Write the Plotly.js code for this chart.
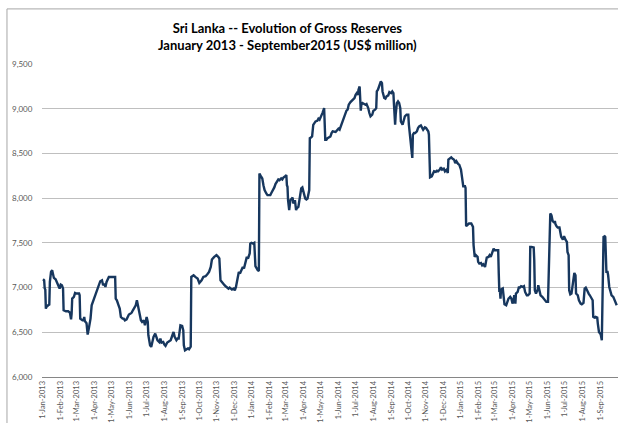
<!DOCTYPE html>
<html><head><meta charset="utf-8">
<script src="https://cdn.plot.ly/plotly-3.0.1.min.js"></script>
<style>html,body{margin:0;padding:0;background:#fff}#chart{width:618px;height:423px}</style>
</head><body><div id="chart"></div><script>
const dates2013 = ['2013-01-01','2013-01-03','2013-01-04','2013-01-05','2013-01-06','2013-01-07','2013-01-10','2013-01-12','2013-01-13','2013-01-15','2013-01-17','2013-01-18','2013-01-20','2013-01-23','2013-01-25','2013-01-27','2013-01-30','2013-02-01','2013-02-03','2013-02-05','2013-02-06','2013-02-10','2013-02-14','2013-02-17','2013-02-19','2013-02-20','2013-02-21','2013-02-24','2013-02-26','2013-02-28','2013-03-05','2013-03-06','2013-03-07','2013-03-11','2013-03-13','2013-03-14','2013-03-15','2013-03-18','2013-03-19','2013-03-20','2013-03-22','2013-03-25','2013-03-27','2013-03-29','2013-04-01','2013-04-04','2013-04-07','2013-04-09','2013-04-11','2013-04-14','2013-04-16','2013-04-18','2013-04-20','2013-04-22','2013-04-24','2013-04-26','2013-04-29','2013-05-04','2013-05-07','2013-05-08','2013-05-10','2013-05-13','2013-05-15','2013-05-17','2013-05-20','2013-05-22','2013-05-24','2013-05-27','2013-05-29','2013-05-31','2013-06-03','2013-06-05','2013-06-07','2013-06-09','2013-06-12','2013-06-14','2013-06-16','2013-06-19','2013-06-21','2013-06-23','2013-06-26','2013-06-28','2013-07-01','2013-07-03','2013-07-04','2013-07-07','2013-07-09','2013-07-11','2013-07-13','2013-07-16','2013-07-18','2013-07-20','2013-07-23','2013-07-25','2013-07-27','2013-07-30','2013-08-01','2013-08-03','2013-08-06','2013-08-08','2013-08-10','2013-08-12','2013-08-15','2013-08-17','2013-08-19','2013-08-22','2013-08-24','2013-08-26','2013-08-29','2013-09-01','2013-09-03','2013-09-04','2013-09-06','2013-09-09','2013-09-11','2013-09-13','2013-09-16','2013-09-17','2013-09-21','2013-09-24','2013-09-28','2013-10-01','2013-10-05','2013-10-08','2013-10-12','2013-10-15','2013-10-18','2013-10-21','2013-10-23','2013-10-27','2013-10-31','2013-11-03','2013-11-05','2013-11-07','2013-11-09','2013-11-11','2013-11-14','2013-11-16','2013-11-18','2013-11-21','2013-11-23','2013-11-25','2013-11-27','2013-11-30','2013-12-02','2013-12-04','2013-12-07','2013-12-09','2013-12-11','2013-12-14','2013-12-16','2013-12-18','2013-12-21','2013-12-23','2013-12-25','2013-12-28','2013-12-29','2013-12-31'];
const reserves2013 = [7093,7082,6990,6978,6765,6784,6802,6810,7063,7175,7194,7157,7108,7093,7063,7026,6989,7034,7026,6989,6746,6735,6735,6720,6645,6709,6877,6896,6940,6933,6933,6914,6653,6634,6634,6672,6627,6601,6537,6474,6541,6653,6802,6840,6877,6951,7007,7045,7071,7082,7026,7045,7007,7063,7101,7119,7119,7116,7119,6877,6858,6802,6765,6672,6653,6653,6634,6645,6672,6698,6709,6720,6746,6765,6802,6858,6802,6709,6634,6616,6634,6578,6672,6616,6467,6355,6336,6392,6448,6485,6448,6411,6392,6430,6385,6392,6362,6347,6385,6392,6400,6411,6467,6504,6448,6411,6430,6430,6578,6571,6522,6355,6299,6310,6320,6310,6340,7119,7138,7119,7101,7052,7082,7119,7127,7149,7175,7231,7313,7343,7362,7343,7325,7082,7063,7045,7026,7015,7007,6989,7000,6989,6978,6989,6970,7007,7119,7175,7157,7194,7231,7213,7287,7343,7325,7381,7492,7500];

const dates2014 = ['2014-01-03','2014-01-05','2014-01-07','2014-01-09','2014-01-11','2014-01-13','2014-01-14','2014-01-17','2014-01-19','2014-01-21','2014-01-23','2014-01-26','2014-01-28','2014-01-30','2014-02-02','2014-02-04','2014-02-07','2014-02-09','2014-02-11','2014-02-14','2014-02-16','2014-02-18','2014-02-21','2014-02-23','2014-02-25','2014-02-28','2014-03-02','2014-03-03','2014-03-04','2014-03-05','2014-03-06','2014-03-07','2014-03-09','2014-03-11','2014-03-13','2014-03-14','2014-03-17','2014-03-19','2014-03-20','2014-03-23','2014-03-25','2014-03-28','2014-03-30','2014-04-01','2014-04-04','2014-04-06','2014-04-08','2014-04-11','2014-04-12','2014-04-14','2014-04-16','2014-04-18','2014-04-20','2014-04-22','2014-04-25','2014-04-27','2014-04-29','2014-05-02','2014-05-04','2014-05-06','2014-05-07','2014-05-09','2014-05-11','2014-05-13','2014-05-16','2014-05-18','2014-05-20','2014-05-22','2014-05-27','2014-05-29','2014-06-01','2014-06-03','2014-06-05','2014-06-08','2014-06-10','2014-06-12','2014-06-15','2014-06-17','2014-06-19','2014-06-22','2014-06-24','2014-06-26','2014-06-29','2014-07-01','2014-07-03','2014-07-05','2014-07-06','2014-07-08','2014-07-09','2014-07-10','2014-07-11','2014-07-13','2014-07-16','2014-07-18','2014-07-20','2014-07-23','2014-07-25','2014-07-27','2014-07-30','2014-08-01','2014-08-04','2014-08-06','2014-08-07','2014-08-09','2014-08-12','2014-08-14','2014-08-16','2014-08-17','2014-08-20','2014-08-22','2014-08-24','2014-08-27','2014-08-29','2014-09-01','2014-09-03','2014-09-05','2014-09-06','2014-09-07','2014-09-08','2014-09-09','2014-09-11','2014-09-13','2014-09-15','2014-09-17','2014-09-18','2014-09-21','2014-09-23','2014-09-25','2014-09-28','2014-10-01','2014-10-02','2014-10-04','2014-10-05','2014-10-06','2014-10-08','2014-10-09','2014-10-11','2014-10-13','2014-10-16','2014-10-18','2014-10-20','2014-10-23','2014-10-25','2014-10-27','2014-10-30','2014-11-01','2014-11-03','2014-11-05','2014-11-06','2014-11-07','2014-11-08','2014-11-11','2014-11-13','2014-11-15','2014-11-18','2014-11-20','2014-11-22','2014-11-25','2014-11-27','2014-11-29','2014-12-02','2014-12-04','2014-12-07','2014-12-09','2014-12-10','2014-12-13','2014-12-15','2014-12-17','2014-12-20','2014-12-22','2014-12-24','2014-12-27','2014-12-29'];
const reserves2014 = [7492,7500,7239,7213,7194,7186,8276,8239,8220,8145,8090,8052,8034,8034,8034,8060,8090,8120,8157,8183,8209,8201,8220,8209,8231,8246,8257,8145,8127,7977,7903,7866,7977,7996,8007,7940,7977,7866,7884,7903,7977,8108,8119,8071,7996,7985,7996,8090,8671,8679,8690,8820,8839,8858,8865,8888,8876,8914,8951,8988,9007,8653,8653,8671,8679,8690,8727,8746,8740,8754,8777,8766,8803,8840,8877,8933,8978,8989,9045,9074,9089,9100,9119,9156,9174,9156,9212,9249,9119,8978,9045,9063,9052,9045,9052,9007,8952,8914,8933,8978,8989,9007,9193,9212,9268,9305,9286,9193,9119,9112,9137,9149,9186,9174,9193,9174,9045,8858,8821,8933,9063,9082,9063,9007,8858,8821,8877,8914,8933,8933,8821,8709,8616,8560,8449,8709,8728,8728,8746,8784,8802,8814,8784,8765,8791,8784,8765,8746,8709,8300,8233,8244,8281,8300,8293,8307,8300,8319,8344,8319,8330,8300,8319,8281,8430,8442,8456,8442,8430,8393,8412,8382,8374];

const dates2015 = ['2015-01-01','2015-01-03','2015-01-05','2015-01-08','2015-01-09','2015-01-10','2015-01-12','2015-01-15','2015-01-17','2015-01-19','2015-01-22','2015-01-23','2015-01-25','2015-01-27','2015-01-30','2015-01-31','2015-02-02','2015-02-05','2015-02-07','2015-02-09','2015-02-12','2015-02-13','2015-02-15','2015-02-18','2015-02-20','2015-02-22','2015-02-25','2015-02-27','2015-03-01','2015-03-04','2015-03-07','2015-03-08','2015-03-09','2015-03-10','2015-03-11','2015-03-12','2015-03-15','2015-03-16','2015-03-18','2015-03-21','2015-03-23','2015-03-25','2015-03-28','2015-03-30','2015-04-01','2015-04-03','2015-04-04','2015-04-05','2015-04-06','2015-04-07','2015-04-10','2015-04-12','2015-04-14','2015-04-16','2015-04-19','2015-04-21','2015-04-23','2015-04-26','2015-04-28','2015-05-01','2015-05-02','2015-05-04','2015-05-08','2015-05-09','2015-05-10','2015-05-12','2015-05-15','2015-05-16','2015-05-18','2015-05-20','2015-05-23','2015-05-25','2015-05-27','2015-05-30','2015-06-01','2015-06-02','2015-06-06','2015-06-08','2015-06-10','2015-06-13','2015-06-14','2015-06-15','2015-06-17','2015-06-19','2015-06-22','2015-06-23','2015-06-25','2015-06-28','2015-06-30','2015-07-03','2015-07-05','2015-07-06','2015-07-07','2015-07-08','2015-07-09','2015-07-10','2015-07-11','2015-07-13','2015-07-16','2015-07-18','2015-07-20','2015-07-21','2015-07-24','2015-07-26','2015-07-29','2015-07-31','2015-08-03','2015-08-05','2015-08-07','2015-08-10','2015-08-12','2015-08-14','2015-08-16','2015-08-19','2015-08-20','2015-08-22','2015-08-24','2015-08-27','2015-08-28','2015-08-30','2015-09-02','2015-09-04','2015-09-07','2015-09-09','2015-09-10','2015-09-11','2015-09-12','2015-09-14','2015-09-15','2015-09-17','2015-09-19','2015-09-21','2015-09-24','2015-09-26','2015-09-28','2015-09-30'];
const reserves2015 = [8319,8188,8133,8133,8114,7686,7698,7716,7716,7716,7679,7475,7344,7362,7343,7287,7269,7276,7250,7261,7231,7269,7336,7343,7362,7343,7388,7436,7418,7418,7418,7157,6951,6970,6877,6978,6989,6896,6814,6802,6858,6877,6896,6877,6821,6858,6914,6821,6821,6933,6951,7000,7000,7015,7007,7015,6951,6914,6914,6933,7455,7455,7448,7306,6970,6933,6978,7026,6978,6914,6896,6877,6858,6840,6840,6840,7828,7809,7746,7724,7746,7709,7686,7671,7671,7623,7567,7537,7574,7530,7511,7399,7380,7362,6970,6933,6925,6933,7119,7164,7138,6933,6914,6858,6821,6814,6828,6989,7000,6951,6933,6914,6896,6858,6672,6664,6672,6664,6597,6504,6478,6411,7567,7574,7567,7418,7175,7175,7138,7007,6970,6914,6896,6858,6821,6802];

const yTickValues = [6000,6500,7000,7500,8000,8500,9000,9500];
const yTickLabels = ['6,000','6,500','7,000','7,500','8,000','8,500','9,000','9,500'];
const chartTitle = '<b>Sri Lanka -- Evolution of Gross Reserves</b><br><b>January 2013 - September2015 (US$ million)</b>';

const allDates = dates2013.concat(dates2014, dates2015);
const allReserves = reserves2013.concat(reserves2014, reserves2015);

const trace = {
  x: allDates, y: allReserves, type: 'scatter', mode: 'lines',
  line: {color: '#17375E', width: 2.4}, hoverinfo: 'skip'
};

const font = 'Lato, "Open Sans", "Liberation Sans", sans-serif';
const layout = {
  width: 618, height: 423,
  margin: {l: 42, r: 0, t: 64, b: 46, pad: 0},
  paper_bgcolor: '#ffffff', plot_bgcolor: '#ffffff',
  showlegend: false,
  title: {
    text: chartTitle, font: {family: font, size: 13, color: '#000'},
    xref: 'container', x: 0.465, xanchor: 'center',
    yref: 'container', y: 0.922, yanchor: 'top'
  },
  xaxis: {
    type: 'date', range: ['2012-12-30 06:00', '2015-10-02 06:00'],
    tickmode: 'linear', tick0: '2013-01-01', dtick: 'M1',
    tickformat: '%-d-%b-%Y', tickangle: -90,
    tickfont: {family: font, size: 7.5, color: '#595959'},
    showgrid: false, showline: true, linecolor: '#868686', linewidth: 1,
    ticks: '', ticklen: 0, zeroline: false
  },
  yaxis: {
    range: [6000, 9500], tickmode: 'array', tickvals: yTickValues, ticktext: yTickLabels,
    tickfont: {family: font, size: 8, color: '#595959'},
    showgrid: true, gridcolor: '#bfbfbf', gridwidth: 1,
    showline: false, zeroline: false,
    ticks: 'outside', ticklen: 7, tickcolor: 'rgba(0,0,0,0)'
  },
  shapes: [
    {type: 'line', xref: 'paper', yref: 'paper', x0: -0.0608, x1: -0.0608, y0: -0.3, y1: 1.176, line: {color: '#a6a6a6', width: 1}},
    {type: 'line', xref: 'paper', yref: 'paper', x0: -0.0608, x1: 1.1, y0: 1.176, y1: 1.176, line: {color: '#a6a6a6', width: 1}}
  ]
};

Plotly.newPlot('chart', [trace], layout, {displayModeBar: false, staticPlot: true});
</script></body></html>
